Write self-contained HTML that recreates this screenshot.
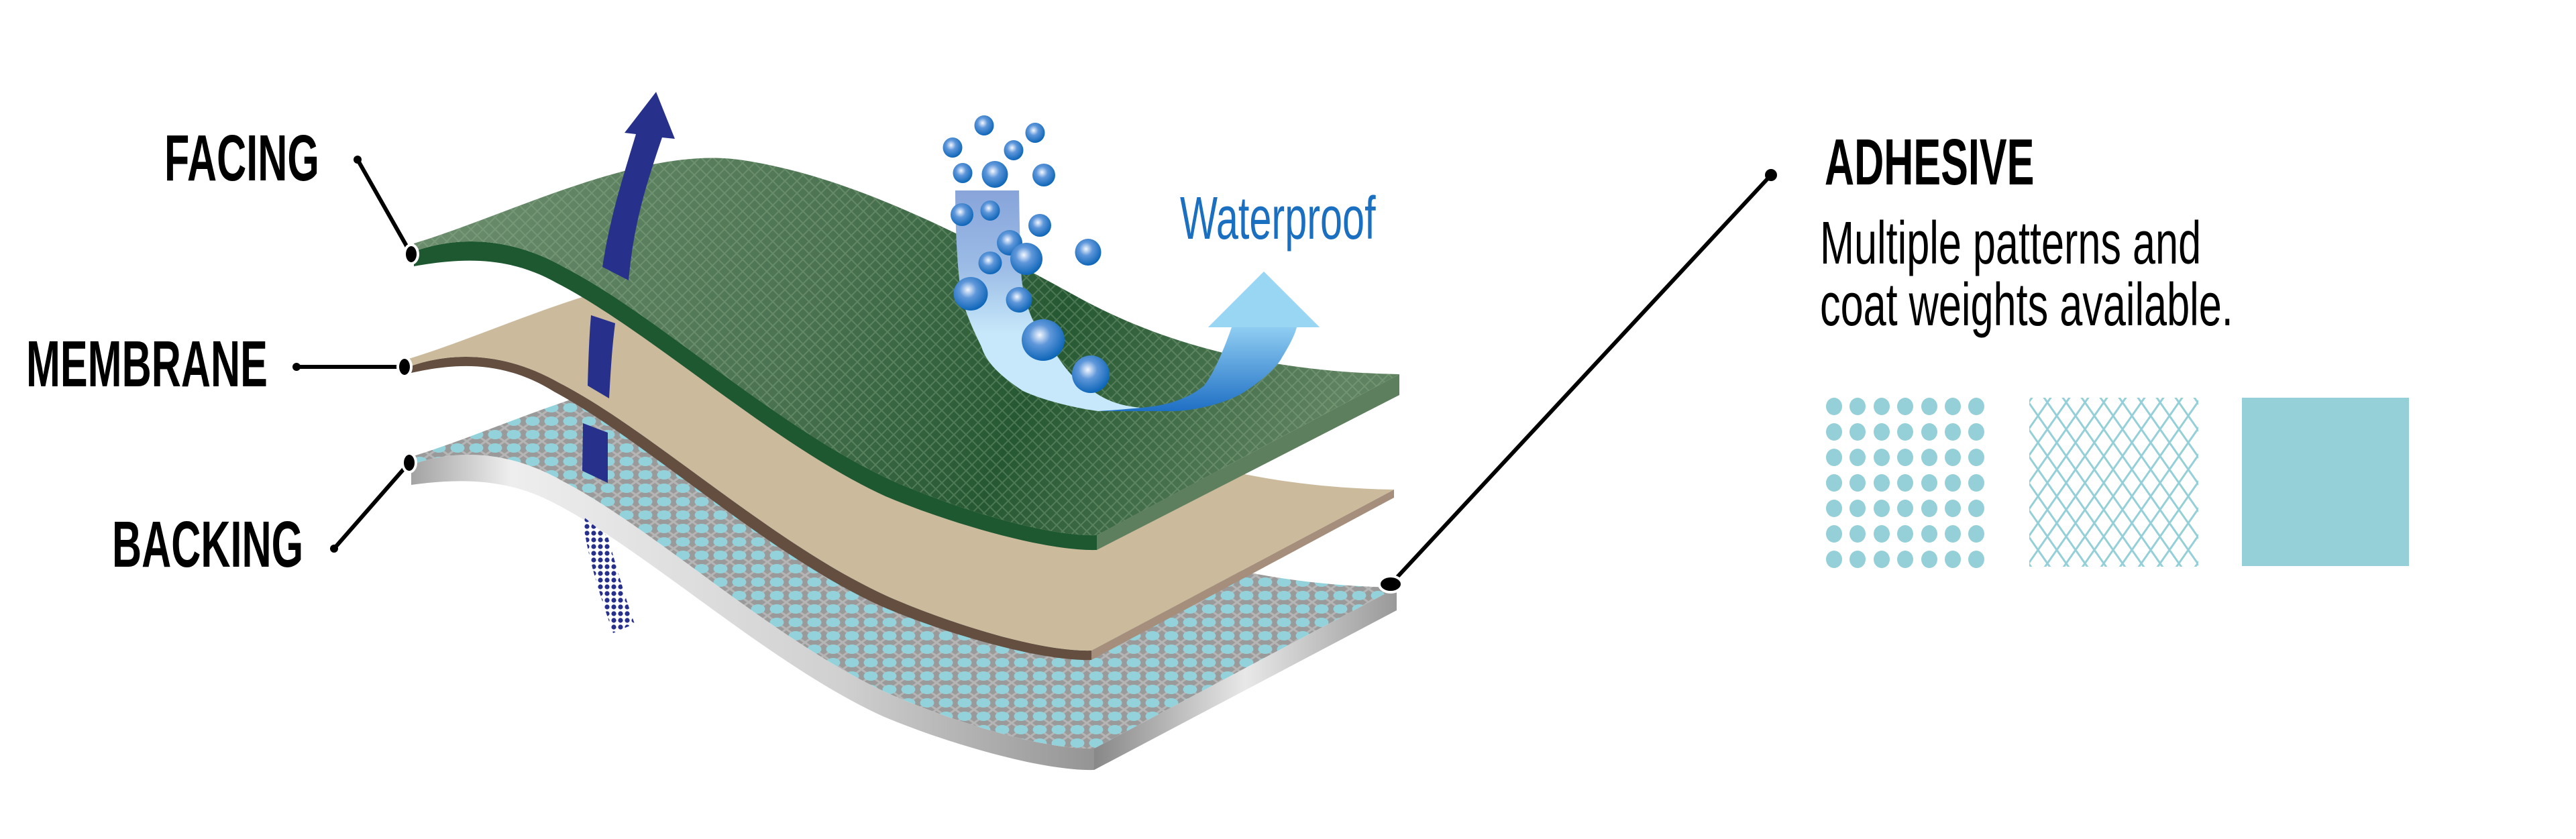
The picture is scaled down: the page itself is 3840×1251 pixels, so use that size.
<!DOCTYPE html>
<html><head><meta charset="utf-8"><style>
html,body{margin:0;padding:0;background:#fff;}
body{width:3840px;height:1251px;overflow:hidden;position:relative;}
svg{position:absolute;left:0;top:0;}
.t{position:absolute;white-space:nowrap;transform-origin:0 0;line-height:1;}
.h{font-family:"Liberation Sans",sans-serif;font-weight:bold;font-size:97px;color:#000;}
.b{font-family:"Liberation Sans",sans-serif;font-size:90px;color:#000;}
</style></head><body>
<svg width="3840" height="1251" viewBox="0 0 3840 1251">
<defs>
<linearGradient id="gT" x1="617" y1="240" x2="1900" y2="800" gradientUnits="userSpaceOnUse">
<stop offset="0" stop-color="#6f9070"/><stop offset="0.45" stop-color="#4a7250"/><stop offset="0.7" stop-color="#255832"/><stop offset="1" stop-color="#5f8260"/></linearGradient>
<pattern id="hatch" width="18" height="18" patternUnits="userSpaceOnUse">
<path d="M0,0 L18,18 M18,0 L0,18" stroke="#9fbf98" stroke-opacity="0.3" stroke-width="2"/></pattern>
<pattern id="dots" width="28" height="20" patternUnits="userSpaceOnUse">
<rect width="28" height="20" fill="#9a9a9a"/>
<path d="M0,0 L28,20 M28,0 L0,20" stroke="#b5b5b5" stroke-width="3"/>
<ellipse cx="14" cy="10" rx="10.5" ry="7" fill="#93d2da"/></pattern>
<linearGradient id="gB" x1="600" y1="0" x2="1700" y2="0" gradientUnits="userSpaceOnUse">
<stop offset="0" stop-color="#9a9a9a"/><stop offset="0.15" stop-color="#eeeeee"/><stop offset="0.6" stop-color="#d0d0d0"/><stop offset="1" stop-color="#8a8a8a"/></linearGradient>
<linearGradient id="gS" x1="1635" y1="0" x2="2086" y2="0" gradientUnits="userSpaceOnUse">
<stop offset="0" stop-color="#888"/><stop offset="0.5" stop-color="#e8e8e8"/><stop offset="1" stop-color="#999"/></linearGradient>
<linearGradient id="gW" x1="0" y1="284" x2="0" y2="613" gradientUnits="userSpaceOnUse">
<stop offset="0" stop-color="#88a4da"/><stop offset="0.35" stop-color="#9cbce6"/><stop offset="0.65" stop-color="#c7e8fa"/><stop offset="1" stop-color="#c7e8fa"/></linearGradient>
<linearGradient id="gR" x1="0" y1="488" x2="0" y2="613" gradientUnits="userSpaceOnUse">
<stop offset="0" stop-color="#8fcdf2"/><stop offset="1" stop-color="#1f6fc4"/></linearGradient>
<radialGradient id="bub" cx="0.42" cy="0.38" r="0.62">
<stop offset="0" stop-color="#f4f8ff"/><stop offset="0.4" stop-color="#5f97da"/><stop offset="1" stop-color="#0e66b8"/></radialGradient>
<pattern id="half" width="10" height="10" patternUnits="userSpaceOnUse"><circle cx="5" cy="5" r="3.6" fill="#27318b"/></pattern>
<pattern id="lg" width="28" height="40" patternUnits="userSpaceOnUse">
<path d="M0,0 L28,40 M28,0 L0,40" stroke="#95d0d8" stroke-width="3"/></pattern>
<path id="top" d="M617,363 C760,320 960,215 1108,239 C1260,262 1420,340 1614,447 C1760,525 1920,555 2086,558 L1635,798 C1560,800 1430,760 1333,718 C1160,640 980,470 842,399 C760,352 680,352 617,375 Z"/>
</defs>

<!-- BACKING -->
<g transform="translate(-4,318)">
<path d="M617,375 C680,352 760,352 842,399 C980,470 1160,640 1333,718 C1430,760 1560,800 1635,798 L1635,830 C1560,832 1420,792 1320,750 C1150,672 970,504 830,432 C760,395 690,395 617,405 Z" fill="url(#gB)"/>
<path d="M1635,798 L2086,558 L2086,592 L1635,830 Z" fill="url(#gS)"/>
<use href="#top" fill="url(#dots)"/>
</g>
<!-- MEMBRANE -->
<g transform="translate(-8,172)">
<path d="M617,375 C680,352 760,352 842,399 C980,470 1160,640 1333,718 C1430,760 1560,800 1635,798 L1635,812 C1560,814 1420,774 1322,732 C1150,654 972,486 834,412 C760,366 690,368 617,385 Z" fill="#634e40"/>
<path d="M1635,798 L2086,558 L2086,570 L1635,812 Z" fill="#a68e7c"/>
<use href="#top" fill="#cbbb9c"/>
</g>
<!-- FACING -->
<g>
<path d="M617,375 C680,352 760,352 842,399 C980,470 1160,640 1333,718 C1430,760 1560,800 1635,798 L1635,820 C1560,822 1420,782 1320,740 C1150,662 970,494 830,422 C760,382 690,384 617,397 Z" fill="#1e5831"/>
<path d="M1635,798 L2086,558 L2086,589 L1635,820 Z" fill="#5e7f5d"/>
<use href="#top" fill="url(#gT)"/>
<use href="#top" fill="url(#hatch)"/>
</g>

<!-- vapor arrow pieces -->
<path d="M978,137 L1006,207 L987,205 C965,270 945,330 937,418 L898,398 C910,320 930,260 948,200 L931,198 Z" fill="#27318b"/>
<path d="M881,470 L917,482 C912,520 910,560 908,594 L876,575 C877,540 878,505 881,470 Z" fill="#27318b"/>
<polygon points="869,631 906,645 906,720 868,702" fill="#27318b"/>
<path d="M868,769 L906,800 C920,850 935,900 946,930 L914,944 C895,890 875,830 868,769 Z" fill="url(#half)"/>

<!-- water arrow -->
<path d="M1424,284 L1519,284 C1520,340 1521,390 1523,417 C1530,470 1550,500 1567,517 C1590,555 1610,575 1629,583 C1650,598 1670,605 1700,608 L1700,613 L1637,613 C1580,605 1540,590 1525,583 C1490,560 1470,540 1463,517 C1445,480 1432,450 1430,417 C1426,380 1424,330 1424,284 Z" fill="url(#gW)"/>
<path d="M1637,613 L1753,613 C1800,610 1840,595 1857,583 C1885,565 1905,545 1911,533 C1922,515 1930,500 1933,488 L1967,488 L1884,405 L1801,488 L1836,488 C1825,520 1810,555 1795,575 C1770,595 1740,605 1700,608 C1680,610 1655,612 1637,613 Z" fill="url(#gR)"/>
<polygon points="1801,488 1884,405 1967,488" fill="#98d6f4"/>
<g fill="url(#bub)">
<ellipse cx="1467" cy="187" rx="14.5" ry="15"/><ellipse cx="1543" cy="198" rx="14.5" ry="15"/>
<ellipse cx="1420" cy="220" rx="14.5" ry="15"/><ellipse cx="1511" cy="224" rx="14.5" ry="15"/>
<ellipse cx="1435" cy="258" rx="14.5" ry="15"/><ellipse cx="1483" cy="260" rx="19.5" ry="20"/>
<ellipse cx="1556" cy="261" rx="17" ry="17"/><ellipse cx="1434" cy="320" rx="17" ry="17"/>
<ellipse cx="1476" cy="314" rx="14.5" ry="15"/><ellipse cx="1550" cy="336" rx="17" ry="17"/>
<ellipse cx="1505" cy="362" rx="19" ry="19"/><ellipse cx="1530" cy="386" rx="24" ry="24"/>
<ellipse cx="1476" cy="392" rx="17.5" ry="17"/><ellipse cx="1622" cy="376" rx="19.5" ry="20"/>
<ellipse cx="1447" cy="438" rx="25.5" ry="25"/><ellipse cx="1519" cy="447" rx="19.5" ry="19"/>
<ellipse cx="1555" cy="507" rx="32" ry="31"/><ellipse cx="1626" cy="558" rx="28" ry="28"/>
</g>

<!-- leaders -->
<g stroke="#000" stroke-width="6" fill="#000">
<line x1="533" y1="238" x2="613" y2="379"/>
<line x1="442" y1="547" x2="603" y2="547"/>
<line x1="498" y1="818" x2="610" y2="690"/>
<line x1="2640" y1="261" x2="2073" y2="871"/>
</g>
<g fill="#000">
<circle cx="533" cy="238" r="6"/><circle cx="442" cy="547" r="6"/><circle cx="498" cy="818" r="6"/><circle cx="2640" cy="261" r="9"/>
</g>
<g fill="#000" stroke="#fff" stroke-width="4">
<ellipse cx="613" cy="379" rx="10" ry="14"/>
<ellipse cx="603" cy="547" rx="10" ry="14"/>
<ellipse cx="610" cy="690" rx="10" ry="14"/>
<ellipse cx="2073" cy="871" rx="17" ry="12"/>
</g>

<!-- legend -->
<g fill="#95d0d8">
<g id="row">
<ellipse cx="2734" cy="606" rx="12" ry="13"/><ellipse cx="2769" cy="606" rx="12" ry="13"/><ellipse cx="2805" cy="606" rx="12" ry="13"/><ellipse cx="2840" cy="606" rx="12" ry="13"/><ellipse cx="2876" cy="606" rx="12" ry="13"/><ellipse cx="2911" cy="606" rx="12" ry="13"/><ellipse cx="2946" cy="606" rx="12" ry="13"/>
</g>
<use href="#row" y="38"/><use href="#row" y="76"/><use href="#row" y="114"/><use href="#row" y="152"/><use href="#row" y="190"/><use href="#row" y="228"/>
</g>
<rect x="3025" y="593" width="252" height="252" fill="url(#lg)"/>
<rect x="3342" y="593" width="249" height="251" fill="#95d0d8"/>

<text x="1759" y="356" font-family="Liberation Sans, sans-serif" font-size="90" fill="#1a6fc0" transform="translate(1759,0) scale(0.66,1) translate(-1759,0)">Waterproof</text>
</svg>

<div class="t h" style="left:245px;top:187px;transform:scaleX(0.63);">FACING</div>
<div class="t h" style="left:39px;top:494px;transform:scaleX(0.63);">MEMBRANE</div>
<div class="t h" style="left:167px;top:763px;transform:scaleX(0.63);">BACKING</div>
<div class="t h" style="left:2720px;top:193px;transform:scaleX(0.63);">ADHESIVE</div>
<div class="t b" style="left:2713px;top:318px;transform:scaleX(0.68);">Multiple patterns and</div>
<div class="t b" style="left:2713px;top:410px;transform:scaleX(0.68);">coat weights available.</div>
</body></html>
